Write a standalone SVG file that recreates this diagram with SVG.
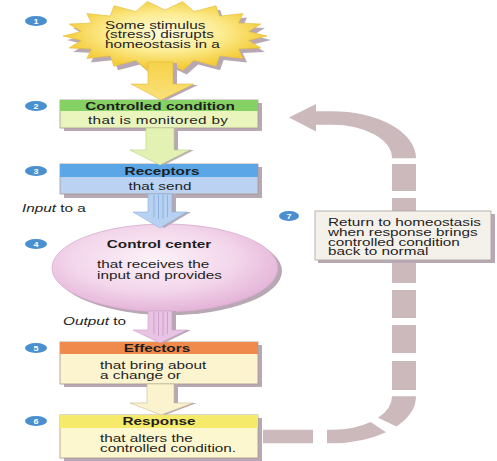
<svg xmlns="http://www.w3.org/2000/svg" width="497" height="461" viewBox="0 0 497 461">
<defs>
 <radialGradient id="sunG" cx="0.5" cy="0.45" r="0.5">
  <stop offset="0" stop-color="#fffbdc"/>
  <stop offset="0.55" stop-color="#fcec92"/>
  <stop offset="1" stop-color="#f4cc3a"/>
 </radialGradient>
 <radialGradient id="ellG" cx="0.45" cy="0.4" r="0.6">
  <stop offset="0" stop-color="#fcf2f8"/>
  <stop offset="0.6" stop-color="#f3d6eb"/>
  <stop offset="1" stop-color="#e4b4d8"/>
 </radialGradient>
 <linearGradient id="yArrow" x1="0" y1="0" x2="0" y2="1">
  <stop offset="0" stop-color="#f5d24a"/><stop offset="1" stop-color="#fbe07a"/>
 </linearGradient>
</defs>
<style>
 text{font-family:"Liberation Sans",Arial,sans-serif;fill:#1e1e1e;font-size:15.3px}
 .b{font-weight:bold}
 .c{text-anchor:middle}
 .i{font-style:italic}
 .sh{fill:#b7a8b3}
 .bd{stroke:#a49a8e;stroke-width:0.8}
 .badge ellipse{fill:#4a8fd0}
 .badge text{fill:#fff;font-weight:bold;font-size:9px;text-anchor:middle}
 .loop{fill:none;stroke:#cbb9bb;stroke-width:24}
 .loopf{fill:#cbb9bb}
 .ln{stroke-width:0.8}
</style>

<g id="n1">
 <polygon class="sh" transform="translate(4,4)" points="267,36 248.7,40.5 260.9,48 238.6,49 243.1,58.5 219.7,55.9 216,66.3 194.1,60.4 182.7,70.5 165,62 147.3,70.5 135.9,60.4 114,66.3 110.3,55.9 86.9,58.5 91.4,49 69.1,48 81.3,40.5 63,36 81.3,31.5 69.1,24 91.4,23 86.9,13.5 110.3,16.1 114,5.7 135.9,11.6 147.3,1.5 165,10 182.7,1.5 194.1,11.6 216,5.7 219.7,16.1 243.1,13.5 238.6,23 260.9,24 248.7,31.5"/>
 <polygon fill="url(#sunG)" stroke="#e2bb3a" stroke-width="0.6" points="267,36 248.7,40.5 260.9,48 238.6,49 243.1,58.5 219.7,55.9 216,66.3 194.1,60.4 182.7,70.5 165,62 147.3,70.5 135.9,60.4 114,66.3 110.3,55.9 86.9,58.5 91.4,49 69.1,48 81.3,40.5 63,36 81.3,31.5 69.1,24 91.4,23 86.9,13.5 110.3,16.1 114,5.7 135.9,11.6 147.3,1.5 165,10 182.7,1.5 194.1,11.6 216,5.7 219.7,16.1 243.1,13.5 238.6,23 260.9,24 248.7,31.5"/>
 <text transform="translate(105,28.5) scale(1,0.68)">Some stimulus</text>
 <text transform="translate(105,38) scale(1,0.68)">(stress) disrupts</text>
 <text transform="translate(105,47.5) scale(1,0.68)">homeostasis in a</text>
 <g class="badge"><ellipse cx="36" cy="21" rx="11" ry="5"/><text transform="translate(36,24) scale(1,0.7)">1</text></g>
</g>

<g id="n2">
 <rect class="sh" x="64" y="103" width="198" height="28"/>
 <rect class="bd" x="60" y="100" width="198" height="28" fill="#eaf5bd"/>
 <rect x="60" y="100" width="198" height="11" fill="#86d163"/>
 <text class="b c" transform="translate(160,109.5) scale(1,0.68)">Controlled condition</text>
 <text class="c" transform="translate(158,123.5) scale(1,0.68)" textLength="140">that is monitored by</text>
 <g class="badge"><ellipse cx="36" cy="106" rx="11" ry="5"/><text transform="translate(36,109) scale(1,0.7)">2</text></g>
</g>

<g id="n3">
 <rect class="sh" x="64" y="167" width="198" height="31"/>
 <rect class="bd" x="60" y="164" width="198" height="30" fill="#bcd2f2"/>
 <rect x="60" y="164" width="198" height="13" fill="#5aa6e6"/>
 <text class="b c" transform="translate(162,174.5) scale(1,0.68)">Receptors</text>
 <text class="c" transform="translate(160,190) scale(1,0.68)">that send</text>
 <g class="badge"><ellipse cx="36" cy="171" rx="11" ry="5"/><text transform="translate(36,174) scale(1,0.7)">3</text></g>
</g>

<g id="n4">
 <ellipse class="sh" cx="169" cy="271" rx="113" ry="44"/>
 <ellipse cx="165" cy="268" rx="113" ry="44" fill="url(#ellG)" stroke="#d0a6c8" stroke-width="0.7"/>
 <text class="b c" transform="translate(159,247.5) scale(1,0.68)">Control center</text>
 <text transform="translate(97,268) scale(1,0.68)">that receives the</text>
 <text transform="translate(97,278.5) scale(1,0.68)">input and provides</text>
 <g class="badge"><ellipse cx="36" cy="244" rx="11" ry="5"/><text transform="translate(36,247) scale(1,0.7)">4</text></g>
</g>

<g id="n5">
 <rect class="sh" x="64" y="345" width="198" height="42"/>
 <rect class="bd" x="60" y="342" width="198" height="42" fill="#fbf4cf"/>
 <rect x="60" y="342" width="198" height="12" fill="#ef8a4c"/>
 <text class="b c" transform="translate(157,351.8) scale(1,0.68)">Effectors</text>
 <text transform="translate(100,368.5) scale(1,0.68)">that bring about</text>
 <text transform="translate(100,378.5) scale(1,0.68)">a change or</text>
 <g class="badge"><ellipse cx="36" cy="348" rx="11" ry="5"/><text transform="translate(36,351) scale(1,0.7)">5</text></g>
</g>

<g id="n6">
 <rect class="sh" x="64" y="418" width="198" height="43"/>
 <rect class="bd" x="60" y="415" width="198" height="43" fill="#fdf7cf"/>
 <rect x="60" y="415" width="198" height="13" fill="#f6ea6a"/>
 <text class="b c" transform="translate(159,425) scale(1,0.68)">Response</text>
 <text transform="translate(100,441.5) scale(1,0.68)">that alters the</text>
 <text transform="translate(100,451.5) scale(1,0.68)">controlled condition.</text>
 <g class="badge"><ellipse cx="36" cy="421" rx="11" ry="5"/><text transform="translate(36,424) scale(1,0.7)">6</text></g>
</g>

<g id="connectors">
 <polygon class="sh" transform="translate(4,1)" points="148,62 173,62 173,84 194,84 161,100 131,84 148,84"/>
 <polygon fill="url(#yArrow)" stroke="#d9b232" stroke-width="0.5" points="148,62 173,62 173,84 194,84 161,100 131,84 148,84"/>
 <polygon class="sh" transform="translate(4,0)" points="146,128 174,128 174,150 190,150 160,165 130,150 146,150"/>
 <polygon fill="#e3f2b2" stroke="#b9cc8a" stroke-width="0.6" points="146,128 174,128 174,150 190,150 160,165 130,150 146,150"/>
 <polygon class="sh" transform="translate(4,0)" points="148,194 172,194 172,212 187,212 160,228 133,212 148,212"/>
 <polygon fill="#b6d1f1" stroke="#8eb0dc" stroke-width="0.6" points="148,194 172,194 172,212 187,212 160,228 133,212 148,212"/>
 <g stroke="#86abd9" class="ln"><line x1="154" y1="195" x2="154" y2="217"/><line x1="158.5" y1="195" x2="158.5" y2="219"/><line x1="163" y1="195" x2="163" y2="219"/><line x1="167.5" y1="195" x2="167.5" y2="217"/></g>
 <text transform="translate(22,211.5) scale(1,0.68)"><tspan class="i">Input</tspan> to a</text>
 <polygon class="sh" transform="translate(4,0)" points="148,311 172,311 172,330 187,330 160,343 133,330 148,330"/>
 <polygon fill="#e8c3e4" stroke="#c9a0c6" stroke-width="0.6" points="148,311 172,311 172,330 187,330 160,343 133,330 148,330"/>
 <g stroke="#c79bc5" class="ln"><line x1="154" y1="312" x2="154" y2="334"/><line x1="158.5" y1="312" x2="158.5" y2="336"/><line x1="163" y1="312" x2="163" y2="336"/><line x1="167.5" y1="312" x2="167.5" y2="334"/></g>
 <text transform="translate(63,324.5) scale(1,0.68)"><tspan class="i">Output</tspan> to</text>
 <polygon class="sh" transform="translate(4,0)" points="147,384 174,384 174,403 193,403 161,415 130,403 147,403"/>
 <polygon fill="#fbf3cd" stroke="#c8bb90" stroke-width="0.6" points="147,384 174,384 174,403 193,403 161,415 130,403 147,403"/>
 <g transform="scale(1,0.56)">
  <path class="loop" d="M313 210.7 H332 A72 72 0 0 1 404 282.7"/>
  <path class="loop" d="M404 707.5 A72 72 0 0 1 387.2 753.8"/>
  <path class="loop" d="M378.3 762.7 A72 72 0 0 1 332 779.5 H327"/>
  <path class="loop" d="M263 779.5 H313"/>
 </g>
 <rect class="loopf" x="392" y="164" width="24" height="27"/>
 <rect class="loopf" x="392" y="198" width="24" height="28"/>
 <rect class="loopf" x="392" y="255" width="24" height="28"/>
 <rect class="loopf" x="392" y="290" width="24" height="28"/>
 <rect class="loopf" x="392" y="325" width="24" height="28"/>
 <rect class="loopf" x="392" y="361" width="24" height="29"/>
 <polygon class="loopf" points="289,117.5 316,104 316,131.5"/>
</g>

<g id="n7">
 <rect class="sh" x="318" y="214" width="177" height="49"/>
 <rect x="315" y="211" width="176" height="49" fill="#f4f0ea" stroke="#aaa0a0" stroke-width="0.8"/>
 <text transform="translate(328,225.5) scale(1,0.68)">Return to homeostasis</text>
 <text transform="translate(328,235.5) scale(1,0.68)">when response brings</text>
 <text transform="translate(328,245.5) scale(1,0.68)">controlled condition</text>
 <text transform="translate(328,255) scale(1,0.68)">back to normal</text>
 <g class="badge"><ellipse cx="289" cy="216" rx="10" ry="5"/><text transform="translate(289,219) scale(1,0.7)">7</text></g>
</g>
</svg>
